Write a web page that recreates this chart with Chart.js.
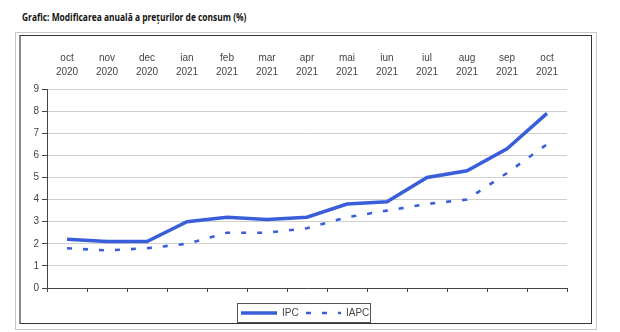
<!DOCTYPE html>
<html>
<head>
<meta charset="utf-8">
<script src="https://cdn.jsdelivr.net/npm/chart.js@4/dist/chart.umd.min.js"></script>
<style>
    body { margin: 0; background: #fff; }
    #wrap { position: relative; width: 620px; height: 332px; }
    #title { position: absolute; left: 22px; top: 10px; font: bold 10.5px "Open Sans", sans-serif; color: #111; white-space: nowrap; transform: scaleX(0.8); transform-origin: left center; }
    #outer { position: absolute; left: 15px; top: 32px; width: 580px; height: 296px; border: 1px solid #c8c8c8; }
    #inner { position: absolute; left: 19px; top: 35px; width: 570px; height: 287px; border: 1px solid #333; border-left: 2px solid #888; }
    canvas { position: absolute; left: 0; top: 0; }
</style>
</head>
<body>
<div id="wrap">
    <div id="title">Grafic: Modificarea anuală a prețurilor de consum (%)</div>
    <div id="outer"></div>
    <div id="inner"></div>
    <canvas id="chart" width="620" height="332"></canvas>
</div>
<script>
(function() {
    'use strict';

    // Date
    const months = [
        ['oct', '2020'], ['nov', '2020'], ['dec', '2020'], ['ian', '2021'], ['feb', '2021'],
        ['mar', '2021'], ['apr', '2021'], ['mai', '2021'], ['iun', '2021'], ['iul', '2021'],
        ['aug', '2021'], ['sep', '2021'], ['oct', '2021']
    ];
    const ipc = [2.2, 2.1, 2.1, 3.0, 3.2, 3.1, 3.2, 3.8, 3.9, 5.0, 5.3, 6.3, 7.9];
    const iapc = [1.8, 1.7, 1.8, 2.0, 2.5, 2.5, 2.7, 3.2, 3.5, 3.8, 4.0, 5.2, 6.5];
    const yTicks = [0, 1, 2, 3, 4, 5, 6, 7, 8, 9];

    const blue = 'rgb(58, 94, 218)';
    const axisFont = { family: '"Liberation Sans", Arial, sans-serif', size: 10, lineHeight: 1.4 };

    // Legenda desenata manual (linie + text)
    const boxLegend = {
        id: 'boxLegend',
        afterDraw(chart) {
            const ctx = chart.ctx;
            const x0 = 237, y0 = 303, w = 133, h = 19;
            const yMid = y0 + h / 2 + 0.5;
            ctx.save();
            ctx.strokeStyle = '#555';
            ctx.lineWidth = 1;
            ctx.strokeRect(x0 + 0.5, y0 + 0.5, w, h);

            const items = [
                { ds: chart.data.datasets[0], x1: 241, x2: 277, tx: 282 },
                { ds: chart.data.datasets[1], x1: 306, x2: 341, tx: 346 }
            ];
            ctx.font = '10px "Liberation Sans", Arial, sans-serif';
            ctx.textBaseline = 'middle';
            items.forEach(it => {
                ctx.beginPath();
                ctx.strokeStyle = it.ds.borderColor;
                ctx.lineWidth = it.ds.borderWidth;
                ctx.setLineDash(it.ds.borderDash || []);
                ctx.moveTo(it.x1, yMid);
                ctx.lineTo(it.x2, yMid);
                ctx.stroke();
                ctx.setLineDash([]);
                ctx.fillStyle = '#444';
                ctx.fillText(it.ds.label, it.tx, yMid);
            });
            ctx.restore();
        }
    };

    new Chart(document.getElementById('chart'), {
        type: 'line',
        data: {
            labels: months,
            datasets: [{
                label: 'IPC',
                data: ipc,
                borderColor: blue,
                borderWidth: 3.5,
                pointRadius: 0,
                tension: 0,
                xAxisID: 'x'
            }, {
                label: 'IAPC',
                data: iapc,
                borderColor: blue,
                borderWidth: 2.6,
                borderDash: [5, 11],
                pointRadius: 0,
                tension: 0,
                xAxisID: 'x'
            }]
        },
        options: {
            responsive: false,
            animation: false,
            events: [],
            layout: { padding: { left: 17, right: 53, top: 45, bottom: 36 } },
            plugins: {
                legend: { display: false },
                tooltip: { enabled: false }
            },
            scales: {
                x: {
                    type: 'category',
                    position: 'bottom',
                    offset: true,
                    grid: {
                        offset: true,
                        drawOnChartArea: false,
                        drawTicks: true,
                        tickLength: 4,
                        tickColor: '#444'
                    },
                    border: { color: '#444', width: 1 },
                    ticks: { display: false },
                    afterFit: s => { s.height = 8; }
                },
                xTop: {
                    type: 'category',
                    position: 'top',
                    offset: true,
                    labels: months,
                    grid: { display: false },
                    border: { display: false },
                    ticks: {
                        color: '#444',
                        font: axisFont,
                        maxRotation: 0,
                        autoSkip: false,
                        padding: 2
                    },
                    afterFit: s => { s.height = 44; }
                },
                y: {
                    min: 0,
                    max: 9,
                    afterBuildTicks: s => { s.ticks = yTicks.map(v => ({ value: v })); },
                    grid: {
                        color: '#cfcfcf',
                        lineWidth: 1,
                        tickLength: 5,
                        tickColor: '#444'
                    },
                    border: { color: '#444', width: 1 },
                    ticks: {
                        color: '#444',
                        font: axisFont,
                        padding: 3
                    },
                    afterFit: s => { s.width = 30; }
                }
            }
        },
        plugins: [boxLegend]
    });
})();
</script>
</body>
</html>
